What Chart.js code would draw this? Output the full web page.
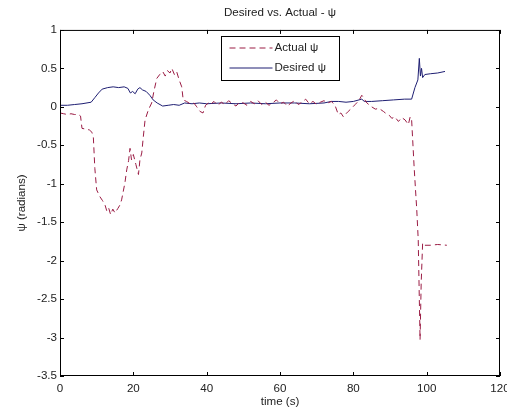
<!DOCTYPE html>
<html lang="en">
<head>
<meta charset="UTF-8">
<title>Desired vs. Actual - ψ</title>
<script src="https://cdn.jsdelivr.net/npm/chart.js"></script>
<style>
  html, body { margin: 0; padding: 0; background: #fff; }
  #wrap { width: 507px; height: 414px; }
</style>
</head>
<body>
<div id="wrap"><canvas id="psiChart"></canvas></div>
<script>
// actual psi (red dashed)
const actualTime = [0, 1, 2, 3, 4, 5, 5.6, 6, 7, 8, 8.7, 9.1, 9.5, 10, 10.9, 11.6, 12.3, 12.8, 13.3, 13.8,
  14.4, 15, 15.8, 16.3, 16.8, 17.7, 18.2, 18.7, 19.1, 19.5, 20, 20.7, 21.4, 21.8, 22.3, 22.7, 23.2, 24.1, 25, 25.6,
  26.4, 27.2, 28, 28.7, 29.3, 30, 30.5, 31.2, 31.8, 32.5, 33.2, 33.6, 34.5, 35.5, 36.5, 37.3, 38.2, 39, 39.7, 40.5,
  41, 42, 43, 44, 45, 46, 47, 48, 49, 50, 51, 52, 53, 54, 55, 56, 57, 58, 59, 60,
  61, 62, 63, 64, 65, 66, 67, 68, 69, 70, 71, 72, 73, 74, 75, 75.9, 76.6, 77.3, 78, 78.6,
  79.5, 80.5, 81.5, 82.3, 82.8, 83.5, 84.2, 85, 86, 87, 88.2, 89, 89.8, 90.5, 91.3, 92.3, 93.2, 94.1, 95, 95.5,
  95.9, 96.6, 97.3, 97.7, 98.2, 98.5, 98.9, 99.5, 101, 103, 105.5];
const actualPsi = [-0.08, -0.09, -0.1, -0.09, -0.1, -0.1, -0.12, -0.28, -0.29, -0.3, -0.33, -0.4, -0.8, -1.08, -1.17, -1.22, -1.28, -1.36, -1.32, -1.4,
  -1.33, -1.38, -1.32, -1.28, -1.21, -0.99, -0.82, -0.7, -0.54, -0.69, -0.62, -0.75, -0.88, -0.69, -0.6, -0.4, -0.17, -0.04, 0.05, 0.2,
  0.37, 0.42, 0.46, 0.4, 0.47, 0.44, 0.5, 0.42, 0.46, 0.35, 0.26, 0.09, 0.07, 0.04, 0.05, 0.0, -0.06, -0.08, 0.02, 0.05,
  0.03, 0.07, 0.02, 0.06, 0.03, 0.08, 0.04, 0.01, 0.06, 0.05, 0.02, 0.07, 0.04, 0.08, 0.03, 0.06, 0.02, 0.05, 0.09, 0.04,
  0.06, 0.01, 0.05, 0.08, 0.03, 0.06, 0.1, 0.04, 0.07, 0.03, 0.06, 0.08, 0.05, 0.07, 0.02, -0.1, -0.08, -0.13, -0.09, -0.06,
  -0.02, 0.03, 0.08, 0.15, 0.12, 0.06, 0.03, 0.0, -0.03, -0.02, -0.06, -0.09, -0.11, -0.15, -0.13, -0.19, -0.14, -0.17, -0.23, -0.13,
  -0.17, -0.8, -1.34, -1.73, -3.03, -2.3, -1.77, -1.8, -1.8, -1.79, -1.8];

// desired psi (blue solid)
const desiredTime = [0, 2, 4, 6, 8.5, 9.5, 10.5, 11.5, 13, 14.5, 16, 17.5, 18.5, 19.2, 19.8, 20.5, 21.2, 21.8, 22.5, 23.5,
  24.5, 25.4, 26.5, 28, 29.5, 31, 32.5, 34, 36, 38, 40, 44, 48, 52, 56, 60, 64, 68, 72, 74,
  76, 78, 80, 82.3, 83, 85, 88, 91, 94, 95.9, 96.8, 97.6, 98, 98.3, 98.6, 98.9, 99.5, 101, 103, 105];
const desiredPsi = [0.02, 0.02, 0.03, 0.04, 0.06, 0.12, 0.18, 0.23, 0.25, 0.26, 0.25, 0.26, 0.24, 0.18, 0.2, 0.17, 0.23, 0.25, 0.22, 0.2,
  0.15, 0.09, 0.05, 0.01, 0.02, 0.03, 0.02, 0.05, 0.04, 0.05, 0.04, 0.05, 0.04, 0.05, 0.04, 0.05, 0.05, 0.04, 0.05, 0.07,
  0.07, 0.06, 0.07, 0.1, 0.07, 0.07, 0.08, 0.09, 0.1, 0.1, 0.25, 0.35, 0.63, 0.4, 0.5, 0.38, 0.42, 0.43, 0.44, 0.46];

const xTicks = [0, 20, 40, 60, 80, 100, 120];
const yTicks = [1, 0.5, 0, -0.5, -1, -1.5, -2, -2.5, -3, -3.5];

const FONT = "'Liberation Sans', Arial, sans-serif";
const FS = 11.6;
const TXT = '#222';

function pts(xs, ys) { return xs.map((x, i) => ({ x: x, y: ys[i] })); }

// matlab style frame, inward ticks and boxed legend
const matlabFrame = {
  id: 'matlabFrame',
  afterDraw(chart) {
    const ctx = chart.ctx;
    const a = chart.chartArea;
    const xs = chart.scales.x, ys = chart.scales.y;
    ctx.save();
    ctx.strokeStyle = '#000';
    ctx.lineWidth = 1;
    ctx.strokeRect(a.left + 0.5, a.top + 0.5, a.right - a.left - 1, a.bottom - a.top - 1);
    ctx.beginPath();
    xTicks.forEach(v => {
      const px = Math.round(xs.getPixelForValue(v)) + 0.5;
      ctx.moveTo(px, a.bottom); ctx.lineTo(px, a.bottom - 4);
      ctx.moveTo(px, a.top); ctx.lineTo(px, a.top + 4);
    });
    yTicks.forEach(v => {
      const py = Math.round(ys.getPixelForValue(v)) + 0.5;
      ctx.moveTo(a.left, py); ctx.lineTo(a.left + 4, py);
      ctx.moveTo(a.right, py); ctx.lineTo(a.right - 4, py);
    });
    ctx.stroke();

    // legend box
    const bx = 221.5, by = 36.5, bw = 118, bh = 44;
    ctx.fillStyle = '#fff';
    ctx.fillRect(bx, by, bw, bh);
    ctx.strokeRect(bx, by, bw, bh);
    ctx.font = FS + 'px ' + FONT;
    ctx.textBaseline = 'middle';
    chart.data.datasets.forEach((ds, i) => {
      const ly = by + 11.5 + i * 20;
      ctx.strokeStyle = ds.borderColor;
      ctx.setLineDash(ds.borderDash || []);
      ctx.beginPath();
      ctx.moveTo(bx + 8, ly); ctx.lineTo(bx + 51, ly);
      ctx.stroke();
      ctx.setLineDash([]);
      ctx.fillStyle = TXT;
      ctx.fillText(ds.label, bx + 53, ly);
    });
    ctx.restore();
  }
};

new Chart(document.getElementById('psiChart'), {
  type: 'line',
  data: {
    datasets: [{
      label: 'Actual ψ',
      data: pts(actualTime, actualPsi),
      borderColor: '#9a1c44',
      borderWidth: 1,
      borderDash: [6, 4],
      pointRadius: 0,
      tension: 0,
      fill: false
    }, {
      label: 'Desired ψ',
      data: pts(desiredTime, desiredPsi),
      borderColor: '#1e1e72',
      borderWidth: 1,
      pointRadius: 0,
      tension: 0,
      fill: false
    }]
  },
  options: {
    responsive: true,
    maintainAspectRatio: false,
    animation: false,
    layout: { padding: { left: 0, right: 7, top: 0, bottom: 0 } },
    plugins: {
      legend: { display: false },
      tooltip: { enabled: false },
      title: {
        display: true,
        text: 'Desired vs. Actual - ψ',
        fullSize: false,
        color: TXT,
        font: { family: FONT, size: FS, weight: 'normal' },
        padding: { top: 6, bottom: 10 }
      }
    },
    scales: {
      x: {
        type: 'linear',
        min: 0, max: 120,
        afterBuildTicks: s => { s.ticks = xTicks.map(v => ({ value: v })); },
        afterFit: s => { s.height = 38; s.paddingLeft = 0; s.paddingRight = 0; },
        grid: { display: false, drawTicks: false },
        border: { display: false },
        ticks: { color: TXT, padding: 6, maxRotation: 0, font: { family: FONT, size: FS } },
        title: { display: true, text: 'time (s)', color: TXT, padding: { top: 0, bottom: 5 }, font: { family: FONT, size: FS } }
      },
      y: {
        type: 'linear',
        min: -3.5, max: 1,
        afterBuildTicks: s => { s.ticks = yTicks.map(v => ({ value: v })); },
        afterFit: s => { s.width = 60; s.paddingTop = 0; s.paddingBottom = 0; },
        grid: { display: false, drawTicks: false },
        border: { display: false },
        ticks: { color: TXT, padding: 3, font: { family: FONT, size: FS }, callback: v => String(+v.toFixed(1)) },
        title: { display: true, text: 'ψ (radians)', color: TXT, padding: { top: 15, bottom: 0 }, font: { family: FONT, size: FS } }
      }
    }
  },
  plugins: [matlabFrame]
});
</script>
</body>
</html>
